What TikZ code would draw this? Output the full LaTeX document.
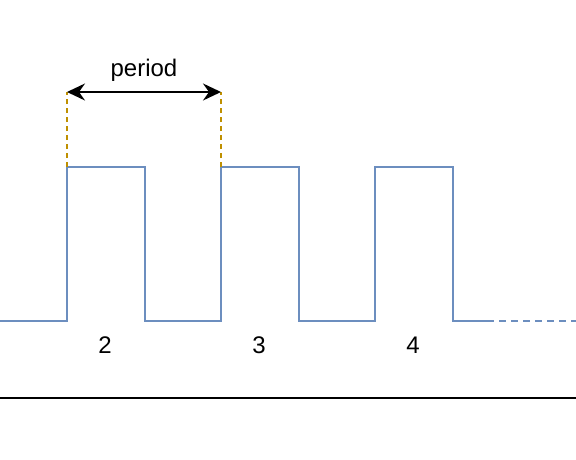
\documentclass[tikz,border=0pt]{standalone}
\usepackage{fontspec}
\setmainfont{Liberation Sans}
\usetikzlibrary{arrows.meta}
\definecolor{sigblue}{HTML}{6C8EBF}
\definecolor{guidegold}{HTML}{BF9000}

\begin{document}
\begin{tikzpicture}[
  x=1pt, y=-1pt,
  >={Stealth[length=18pt, width=17pt, inset=6pt]},
  sig/.style={draw=sigblue, line width=2pt},
  guide/.style={draw=guidegold, line width=1.5pt, dash pattern=on 5pt off 4pt},
  lab/.style={font=\fontsize{24}{28}\selectfont, text=black, inner sep=0pt},
]

% Canvas
\useasboundingbox (0,0) rectangle (576,460);

% =============================================
% Pulse train
% =============================================
\coordinate (start) at (0,321);
\foreach \n/\x in {2/67, 3/221, 4/375} {
  \coordinate (up\n) at (\x,167);
  \coordinate (dn\n) at (\x+78,321);
  \node[lab] (n\n) at (\x+38,345) {\n};
}
\coordinate (tail) at (487,321);
\coordinate (fade) at (576,321);

\draw[sig] (start) -| (up2) -| (dn2) -| (up3) -| (dn3) -| (up4) -| (dn4) -- (tail);
\draw[sig, dash pattern=on 7pt off 5pt] (tail) -- (fade);

% =============================================
% Period marker
% =============================================
\coordinate (m2) at (67,92);
\coordinate (m3) at (221,92);
\draw[guide] (up2) -- (m2);
\draw[guide] (up3) -- (m3);
\draw[<->, line width=2pt, black] (m2) -- (m3);
\node[lab] (per) at (144,70) {period};

% Baseline
\coordinate (basel) at (0,398);
\coordinate (baser) at (576,398);
\draw[black, line width=2pt] (basel) -- (baser);

\end{tikzpicture}
\end{document}
